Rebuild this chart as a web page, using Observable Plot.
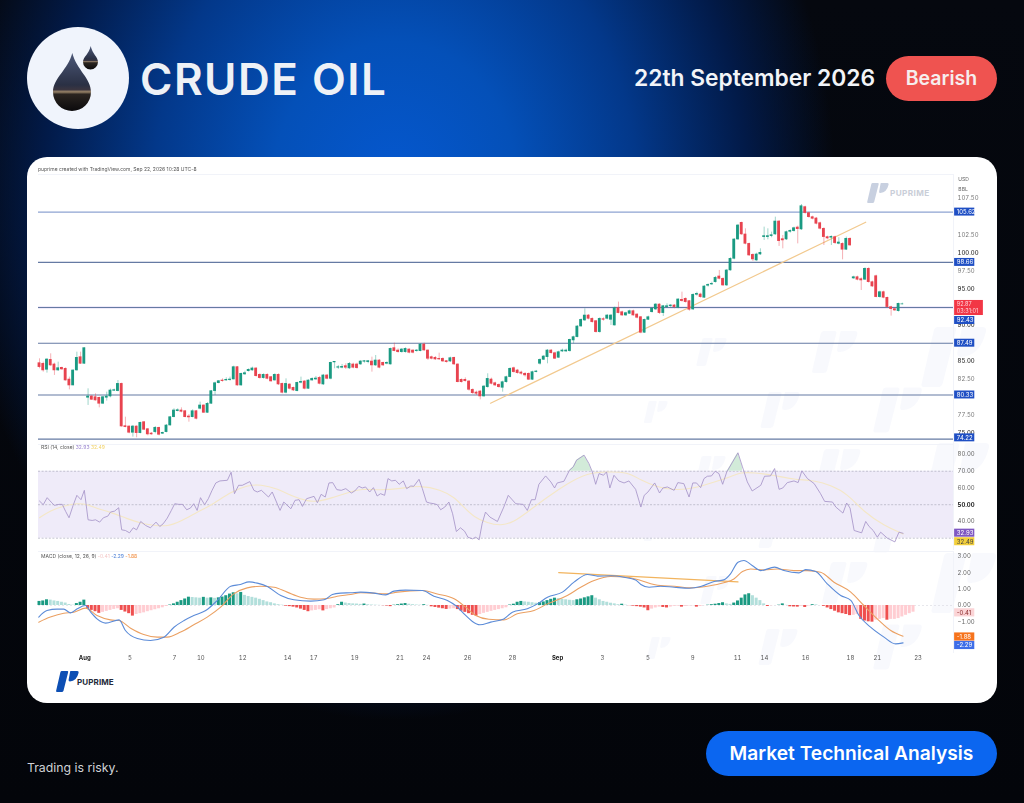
<!DOCTYPE html>
<html><head><meta charset="utf-8">
<script src="https://cdn.jsdelivr.net/npm/d3@7"></script>
<script src="https://cdn.jsdelivr.net/npm/@observablehq/plot@0.6"></script>
<style>
html,body{margin:0;padding:0;width:1024px;height:803px;overflow:hidden;background:#04060c}
body{position:relative;font-family:Inter,"Open Sans",sans-serif;
background:
 radial-gradient(ellipse 440px 530px at 395px 190px,#0558d0 0%,#0450b8 28%,#03388a 55%,#021a48 80%,rgba(2,12,34,0) 100%),
 linear-gradient(#05080f,#03050a);}
.abs{position:absolute}
#card{left:27px;top:157px;width:970px;height:546px;background:#fff;border-radius:20px;overflow:hidden}
.plot{position:absolute;left:38px;filter:blur(.25px)}
.plot svg{display:block;overflow:visible}
.tiny{font:5px Inter,sans-serif;color:#555;white-space:nowrap;filter:blur(.2px)}
</style></head><body>
<svg class="abs" style="left:0;top:0" width="1024" height="160">
 <defs>
  <linearGradient id="dg" x1="0" y1="0" x2="0" y2="1">
   <stop offset="0" stop-color="#4c5878"/><stop offset=".55" stop-color="#2a3044"/><stop offset=".63" stop-color="#3a3540"/><stop offset=".67" stop-color="#9a8468"/><stop offset=".71" stop-color="#2a2420"/><stop offset="1" stop-color="#0b0a0c"/>
  </linearGradient>
 </defs>
 <circle cx="78" cy="78" r="51" fill="#f0f4fc"/>
 <path d="M72.3 53C68 70 53 78 53 92A19 19 0 0 0 91 92C91 78 76.6 70 72.3 53Z" fill="url(#dg)"/>
 <path d="M90.7 46C89 54 83 57 83 62A7.5 7.5 0 0 0 98 62C98 57 92.4 54 90.7 46Z" fill="url(#dg)"/>
</svg>
<div class="abs" id="title" style="left:140px;top:53px;font:600 44px/52px Inter,sans-serif;color:#eef1f6;letter-spacing:1.5px;white-space:nowrap">CRUDE OIL</div>
<div class="abs" style="left:634px;top:64px;font:600 22.8px/28px Inter,sans-serif;color:#f2f4f8;white-space:nowrap">22th September 2026</div>
<div class="abs" style="left:886px;top:56px;width:111px;height:45px;border-radius:23px;background:#ef5350;color:#f6eeee;font:600 19.5px/45px Inter,sans-serif;text-align:center">Bearish</div>
<div class="abs" style="left:706px;top:731px;width:291px;height:45px;border-radius:23px;background:#0b66f0;color:#fff;font:600 19.2px/45px Inter,sans-serif;text-align:center;white-space:nowrap">Market Technical Analysis</div>
<div class="abs" style="left:27px;top:760px;font:400 12.3px/16px Inter,sans-serif;color:#d0d2d6">Trading is risky.</div>

<div class="abs" id="card"><svg id="marks" width="970" height="546" style="position:absolute;left:0;top:0"></svg></div>
<div class="abs tiny" style="left:38px;top:166px">puprime created with TradingView.com, Sep 22, 2026 10:28 UTC-8</div>
<div class="abs tiny" style="left:41px;top:444px">RSI (14, close) <span style="color:#9a86cf">32.93</span> <span style="color:#f2d266">32.49</span></div>
<div class="abs tiny" style="left:41px;top:553px">MACD (close, 12, 26, 9) <span style="color:#f4c6c6">-0.41</span> <span style="color:#4a7fd6">-2.29</span> <span style="color:#f08a3c">-1.88</span></div>
<div class="abs" style="left:890px;top:186px;font:700 8.2px/14px Inter,sans-serif;color:#c9ced8;letter-spacing:.4px">PUPRIME</div>
<div class="abs" style="left:77px;top:676px;font:700 8px/12px Inter,sans-serif;color:#232a3a;letter-spacing:.1px">PUPRIME</div>
<div class="plot" id="price" style="top:174px"></div>
<div class="plot" id="rsi" style="top:444px"></div>
<div class="plot" id="macd" style="top:551px"></div>

<script>
const opens=[84.73,84.64,83.81,85.19,84.55,83.72,84.09,83.95,82.47,81.64,83.72,85.56,84.64,79.94,80.12,80.03,79.94,79.11,79.94,80.12,
80.90,80.86,81.87,76.02,75.97,75.10,75.97,75.05,76.57,75.60,75.00,75.19,75.79,74.96,75.19,76.11,77.26,78.09,78.19,78.09,
77.36,77.26,78.09,78.42,78.88,77.86,79.11,80.86,81.96,82.33,82.33,82.38,82.47,84.18,81.64,83.17,83.62,83.72,84.00,83.12,
82.66,83.12,82.80,82.33,83.12,81.87,80.63,81.78,81.32,80.86,82.01,82.20,81.18,82.33,82.47,82.70,81.78,83.03,82.56,84.83,
84.09,84.09,84.32,84.00,84.55,84.55,84.55,84.92,84.87,84.96,84.41,85.10,84.78,84.64,84.55,86.81,86.48,86.25,86.25,86.62,
86.48,86.39,86.39,87.31,86.48,85.56,85.47,85.33,85.33,85.01,84.96,85.47,84.55,82.43,82.43,82.20,81.04,80.67,80.81,80.12,
81.41,82.47,81.96,81.73,81.32,82.10,82.80,84.04,83.72,83.44,83.26,83.26,82.43,83.49,84.64,85.19,85.56,86.48,86.11,85.47,
86.34,86.34,86.39,87.87,88.33,89.80,90.63,91.32,90.86,90.54,89.02,90.82,90.86,90.72,89.94,92.34,91.78,91.32,91.55,91.92,
91.46,91.09,88.93,90.72,91.78,92.15,92.84,91.65,92.48,92.61,92.71,92.38,93.49,93.63,93.31,92.15,94.18,94.23,93.77,95.43,
95.61,95.93,96.72,96.39,95.47,97.55,99.16,101.83,104.14,102.53,101.23,99.71,98.93,99.76,102.16,102.16,102.30,102.53,104.32,101.88,
101.83,102.89,102.99,103.49,103.22,106.31,105.48,104.92,104.74,104.09,103.31,102.16,102.07,102.16,101.23,101.23,100.41,101.93,96.44,96.62,
96.35,96.26,97.78,95.93,96.76,93.86,94.55,93.77,92.48,92.20,91.92,92.85];
const closes=[84.18,83.72,85.24,84.41,83.72,84.04,83.86,82.33,81.64,83.72,85.47,84.64,86.81,80.12,79.66,79.57,79.11,80.03,80.12,80.95,
81.00,81.87,75.97,75.88,75.10,75.97,75.05,76.48,75.51,74.87,74.87,75.79,74.82,75.10,76.11,77.26,78.19,78.23,78.00,77.26,
77.22,78.09,77.03,78.88,77.86,79.11,80.86,81.96,82.24,82.24,82.43,82.47,84.18,81.64,83.26,83.35,83.81,84.00,82.93,82.66,
83.12,82.56,82.20,83.12,81.78,80.63,81.87,81.18,80.95,82.01,82.15,81.18,82.33,82.56,82.61,81.87,83.03,82.56,84.78,84.92,
84.18,84.22,84.09,84.64,84.09,84.04,84.96,85.01,85.01,84.41,85.10,84.09,84.41,84.78,86.71,86.39,86.25,86.62,86.71,86.16,
86.16,86.48,87.31,86.48,85.33,85.33,85.24,85.24,84.96,84.87,85.42,84.55,82.10,82.10,82.24,81.04,80.58,80.49,80.12,81.50,
82.56,81.87,81.64,81.41,82.10,82.80,83.95,83.49,83.35,83.26,83.03,82.43,83.49,83.58,85.19,85.65,86.48,86.11,85.33,86.25,
86.48,86.48,87.96,88.33,89.80,90.72,91.32,90.86,90.40,89.02,90.86,90.72,91.32,91.32,92.34,91.65,91.32,91.65,91.92,91.32,
91.00,88.93,90.72,91.09,92.25,92.84,91.65,92.61,92.61,92.71,92.48,93.54,93.31,93.17,92.11,94.18,94.32,93.86,95.33,95.56,
95.70,96.53,96.39,95.47,97.55,99.16,101.83,103.77,102.53,101.23,99.62,99.07,99.76,99.99,102.30,102.30,102.43,104.32,101.60,101.70,
102.85,103.03,103.40,103.26,106.44,105.48,104.92,104.69,104.00,103.31,102.16,101.97,102.20,101.33,101.42,100.41,101.93,101.00,96.62,96.26,
96.16,97.78,95.93,95.33,93.86,94.55,93.77,92.48,92.20,92.01,92.94,92.87];
const highs=[85.33,84.87,85.33,86.02,84.73,84.87,84.18,84.09,82.80,83.81,86.25,86.25,86.85,81.18,80.26,80.49,80.03,80.12,80.72,81.14,
81.14,82.33,81.97,77.26,76.06,76.11,76.06,76.57,76.66,75.70,75.14,75.97,75.88,75.19,76.25,77.36,78.42,78.42,78.55,78.19,
77.63,78.28,78.19,79.34,78.97,79.29,80.95,82.10,82.33,82.56,82.70,82.80,84.32,84.27,83.35,83.62,83.95,84.18,84.09,83.26,
83.26,83.26,82.89,83.26,83.26,81.97,82.56,81.87,81.41,82.10,82.80,82.33,82.43,82.70,82.89,82.89,83.17,83.17,84.87,84.96,
84.41,84.55,84.64,84.82,84.73,84.73,85.10,85.10,85.10,85.56,85.79,85.24,84.87,84.92,86.81,87.50,86.71,86.76,86.85,86.71,
86.57,86.62,87.40,87.50,86.57,85.70,85.65,86.11,85.47,85.10,85.56,85.56,84.64,82.56,82.70,82.33,81.18,80.86,80.95,81.64,
83.26,82.66,82.10,81.87,82.24,82.93,84.09,84.18,83.86,83.62,83.44,83.39,83.62,83.72,85.33,85.79,86.62,86.62,86.25,86.39,
86.67,86.67,88.05,88.47,89.94,90.86,92.25,91.46,91.00,90.63,91.00,91.00,91.46,91.46,92.48,93.17,91.92,91.78,92.06,92.06,
91.55,91.18,90.82,91.23,92.38,92.98,92.94,92.71,92.94,92.84,92.84,93.63,94.55,93.77,93.40,94.32,94.55,94.41,95.47,95.70,
95.93,96.72,97.55,96.53,97.69,99.30,101.97,103.91,104.23,103.31,101.33,99.85,99.94,100.54,103.54,103.31,102.85,104.92,104.46,102.39,
102.99,103.17,103.54,103.68,106.67,106.44,105.61,105.06,104.88,104.23,103.45,102.30,102.34,102.30,102.07,101.37,102.16,102.07,96.76,96.76,
96.53,97.92,97.92,96.07,96.90,94.69,94.69,93.86,92.61,92.34,93.03,93.03];
const lows=[83.95,83.49,83.35,84.27,83.03,83.58,83.72,82.24,81.04,81.60,83.62,84.55,84.55,78.88,79.57,79.48,78.55,79.01,79.48,79.94,
80.86,80.77,75.88,75.79,74.96,74.50,74.41,74.96,75.42,74.68,74.77,74.96,74.68,74.87,75.10,76.02,77.17,78.00,77.86,77.17,
76.57,77.17,76.89,78.28,77.77,77.77,79.01,80.26,81.87,82.10,82.24,82.24,82.43,81.55,81.55,83.03,83.49,83.62,82.80,82.52,
82.52,82.43,82.10,82.24,81.64,80.49,80.49,81.04,80.81,80.77,81.87,81.04,81.09,82.24,82.33,81.73,81.64,82.43,82.43,83.95,
83.86,83.95,83.86,83.86,83.95,83.90,84.41,84.73,84.64,83.49,84.27,83.95,84.27,84.50,84.46,86.30,86.11,86.11,86.11,86.02,
86.02,86.25,86.30,86.39,85.10,85.19,85.10,85.10,84.82,84.73,84.82,84.41,82.01,81.97,82.10,80.86,80.40,80.26,79.66,80.03,
81.27,81.73,81.50,81.27,80.72,81.96,82.70,83.35,83.21,83.07,82.80,82.33,82.33,83.39,84.46,85.10,84.64,85.97,85.24,85.38,
86.21,86.21,86.25,87.40,88.23,89.71,90.49,90.72,90.26,88.88,88.88,90.54,90.72,89.94,89.85,91.55,91.19,91.19,91.46,91.23,
90.86,88.79,88.83,90.63,91.65,92.01,91.46,91.19,92.34,92.38,92.25,92.25,93.17,93.03,91.92,92.01,94.00,93.72,93.67,95.24,
95.47,95.80,96.26,95.33,95.33,97.45,99.02,101.70,102.39,101.10,99.48,98.79,98.79,99.62,101.70,101.79,102.07,102.39,100.87,100.54,
101.70,102.71,102.85,101.23,103.08,105.34,104.78,104.55,103.86,103.17,101.00,101.79,101.00,101.14,101.10,99.02,100.31,100.91,96.30,96.12,
94.78,96.16,95.80,95.20,93.77,93.72,93.63,92.34,91.23,91.88,91.79,92.80];

const levels=[105.62,98.66,92.43,87.49,80.33,74.22];
const levelTagY=[105.62,98.66,90.63,87.49,80.33,74.40];
const priceMinor=[107.5,102.5,97.5,82.5,77.5];
const priceMajor=[100,95,90,85,75];
const trendIdx=[120.75,221.2];
const trendVal=[79.19,104.22];

const rsiIdx=[0,1,2.05,3.1,4,5.2,6.1,7,7.9,9,10,11.1,12,13,14.1,15,16.1,17.1,18.3,19,20.1,21.2,22,23,24.1,25.1,26,27.1,28.4,29.7,31.2,32.2,33.1,34.2,35.3,36.2,37.3,38.3,39.4,40.4,41.3,42.2,43.1,44.2,45.2,46.2,47.2,48.3,50.3,51.3,52.2,53.3,54.3,56.3,57.4,58.3,59.4,61.3,62.3,64.4,65.4,67.3,68.4,69.5,70.4,71.5,73.5,74.4,75.4,76.5,77.5,78.5,79.6,80.8,82,
83.5,84.4,85.5,86.4,87.3,88.4,89.4,90.4,91.3,92.4,93.3,94.3,95.3,96.3,97.4,98.3,99.4,100.2,101.6,102.5,103.6,104.5,105.6,106.5,107.4,108.5,109.6,110.6,111.6,112.7,113.8,114.7,115.9,116.8,117.7,118.5,119.4,120.6,122.6,124.3,125.5,127.5,129.5,130.6,131.7,132.7,133.7,135.5,136.9,137.9,138.6,140.4,141.9,142.9,143.8,145.8,147.1,148,148.9,149.8,151,151.8,152.7,153.8,155.1,156.5,157.8,159.6,161,161.9,162.9,164.7,166,
166.9,168.1,169.9,170.9,172.5,173.9,174.9,175.9,177,177.9,178.8,179.9,180.9,181.9,182.9,184,187,188.2,189.5,190.8,193.1,194.1,195.7,196.8,198,199,200.2,202,203.1,204.1,205.6,207.4,209.1,210.2,212.3,213.2,215.1,216.1,217,218.1,220.1,221.2,222.1,223.2,224.3,225.2,227,229,230.1,231.2];
const rsiVal=[52.2,50,54.2,51.6,49.6,50.2,50.2,46,42.2,49.6,55.6,53,58.6,41,40.6,41,39.6,42.2,43.2,45.6,46.2,48.2,35,34.6,33.2,36.2,35,40,37.6,36.2,39.6,37,38.6,42,46.6,50.6,50.2,50.2,47,48,50.6,46.6,54.2,50,53.6,58.6,63,64.2,64.6,69.4,56.6,61.6,61.6,63.8,58.6,57.6,58.6,54.6,57.6,46.6,51.6,47.6,52.6,53,49,53.6,55,51.2,56.2,54.6,63,63.2,59,58.6,59.6,
57,58.2,61,60,60.6,57.6,60.2,55.2,56.6,55.6,65.6,64.2,64.6,62.2,64.2,59.6,61.2,61,65.2,59.6,51.6,51,50.6,50,47,48.6,51.6,44.6,34,36.2,34.2,30.6,29.6,30.6,29,38.6,45.6,42.6,40,48.6,55.6,50.6,50.2,46.6,53,53,62.2,67.2,63.6,60,63,64,70.6,72.6,76.6,79.6,74.6,69.6,62.2,68.6,67.6,69.6,60,67.6,64.2,63,64.2,59.2,48.6,55.6,57.6,63,57,
60,60.6,58.6,63.2,62.6,54.6,63,63,60.2,65.6,67,67.2,70,68.6,62.2,69.6,81,72.6,63.6,58.2,61.6,67,67.2,71.6,59.2,60,63.2,64.2,63.2,70.2,65.6,62.6,56.6,52,51.6,48.6,45,51,48,34.6,33.2,40,37,34.6,30.6,33.6,30,27.8,33.6,32.93];
const rsiMaIdx=[0,2.9,6.5,10.1,12.8,15.4,19,23.5,27,30.6,34.2,37.8,42.2,46.7,51.2,55.6,59.2,63.7,68.1,71.7,75.3,78.8,83.3,86,91.3,96.7,102,107.4,111,113.6,116.3,119.9,123.5,127,130.6,136,141.3,146.7,152,157.4,161,165.4,169.9,175.2,180.6,185,187.7,191.3,196.6,202,207.4,211.8,216.3,220.7,226.1,231.2];
const rsiMaVal=[42.2,46.6,49.2,51,50.2,47.6,45.6,41.6,39,37.6,37,40,45.6,50.6,57.6,61.6,62.2,59.6,54.6,52,52,54.6,57.6,59.6,58.6,59.6,61.6,59,54.6,48.6,42.6,39,37.4,39.6,45.6,54.6,62.6,69,69.6,69.6,64.6,60.6,58.6,59.6,63.6,66.6,69.4,69.2,67.6,65,64.6,61.6,56.6,45.6,37.6,32.49];
const rsiTicks=[80,70,60,40];
const rsiBold=[50];
const rsiTagY=[33,27.9];
const rsiTagText=["32.93","32.49"];

const macdIdx=[-0.2,2,4.7,6.5,8.3,10.1,12.3,13.7,15.4,17.7,21.3,23,26.2,29.7,33.3,36,38.7,41.3,44.5,47.6,51.2,53.8,56.1,58.3,61,64.6,68.1,72.6,76.2,78.4,80.6,83.3,86,89.5,92.7,94.9,98,102.5,105.6,109.2,111.4,114.1,115.9,117.9,120.8,124.3,126.6,130.6,133.3,136,140,143.1,146.7,149.4,152.9,156.5,159.6,161,163.2,166.3,169.9,173.9,177,180.6,183.2,185,187,188.6,190.8,193.1,196.8,199.3,203.3,205.1,207.8,210.9,214.5,217.2,219.4,222.5,226.1,229.2,231.2];
const macdVal=[-0.71,-0.31,-0.22,-0.22,-0.45,-0.2,0,-0.41,-0.82,-1.08,-0.88,-1.53,-2.02,-2.14,-1.94,-1.33,-0.92,-0.61,-0.31,0.31,1.18,1.29,1.45,1.37,1.16,0.61,0.35,0.27,0.35,0.67,0.76,0.78,0.82,0.76,0.65,0.88,0.94,0.92,0.57,0.31,0,-0.61,-0.98,-1.18,-1.02,-0.82,-0.41,-0.2,0.1,0.51,0.82,1.43,1.9,1.8,1.82,1.73,1.57,1.29,1.12,1.18,1.12,1.06,1.16,1.47,1.57,1.94,2.65,2.76,2.45,2.14,2.35,2.14,2,2.2,2.08,1.33,0.61,0.31,-0.61,-1.33,-1.94,-2.35,-2.29];
const signalIdx=[-0.2,2.9,6.5,9.2,12.3,15.4,19,21.3,24.4,27.9,31.5,34.2,37.8,41.3,44.9,48.5,52,55.6,59.2,62.8,66.3,69.9,73.5,77.1,79.7,83.3,86,89.5,92.7,95.8,102.5,106.5,111,114.1,116.8,120.3,124.3,127.9,132.4,136,141.3,144.9,148.5,152.9,157.4,161,164.5,166.3,169.9,174.3,178.8,183.2,185.9,188.2,190.4,194,197.5,202,205.6,209.1,212.7,217.2,220.7,224.3,227.9,231.2];
const signalVal=[-1.02,-0.71,-0.47,-0.41,-0.16,-0.61,-0.88,-0.92,-1.39,-1.78,-1.94,-1.94,-1.63,-1.18,-0.71,-0.1,0.71,1.08,1.18,1.12,0.82,0.51,0.39,0.43,0.57,0.67,0.78,0.76,0.71,0.82,0.92,0.71,0.41,-0.1,-0.61,-0.84,-0.88,-0.51,-0.31,0.1,0.61,1.12,1.53,1.78,1.73,1.53,1.29,1.22,1.18,1.08,1.18,1.39,1.63,2.08,2.24,2.18,2.24,2.14,2.14,2.04,1.43,0.82,0,-0.82,-1.53,-1.88];
const hist=[.25,.28,.35,.33,.28,.25,.2,.15,.06,.02,.12,.2,.33,-.18,-.3,-.38,-.48,-.42,-.36,-.3,-.24,-.2,-.3,-.4,-.5,-.65,-.55,-.5,-.45,-.38,-.32,-.26,-.2,-.14,-.06,.03,.1,.2,.3,.4,.51,.49,.47,.45,.5,.45,.47,.44,.47,.52,
.6,.7,.78,.72,.8,.62,.55,.5,.45,.38,.3,.22,.17,.1,.05,.02,-.04,-.07,-.1,-.15,-.22,-.3,-.38,-.33,-.3,-.26,-.33,-.25,-.2,-.15,.05,.2,.15,.12,.1,.09,
.07,.09,.05,.03,.02,.01,-.01,-.03,-.07,.02,.05,.09,.12,.08,.05,.03,.02,.05,.01,-.08,-.12,-.16,-.2,-.24,-.22,-.2,-.25,-.35,-.42,-.5,-.6,-.65,-.55,-.48,-.42,-.36,-.3,-.25,-.2,-.14,.03,.08,.2,.25,.22,.2,.17,.14,.17,.22,.3,.38,.45,
.42,.38,.35,.32,.3,.35,.4,.47,.53,.6,.45,.35,.25,.2,.14,.1,.05,.08,.02,-.01,-.04,-.07,-.1,-.15,-.32,-.22,-.15,-.1,-.12,-.15,-.1,-.05,-.04,-.1,-.06,-.03,-.02,-.1,-.06,-.01,.02,.05,.08,.12,.17,.1,.07,.15,.28,.45,.65,.72,.6,.45,.3,.1,-.06,-.02,0,.02,.1,.01,-.08,-.09,-.1,-.05,-.12,-.03,.05,.04,0,-.05,-.15,-.25,-.35,-.45,-.5,-.55,-.62,-.6,-.55,-.85,-.95,-1,-1.02,-.9,-.85,-.8,-.9,-.85,-.85,-.8,-.7,-.6,-.5,-.41];
const macdTicks=[3,2,1,0,-1];
const macdTrendIdx=[139,187];
const macdTrendVal=[2.02,1.45];

const dayTicks=[24.2,36.1,43.2,54.4,66.4,73.4,84.4,96.5,103.6,114.6,126.6,150.7,162.9,174.9,186.9,194.1,205.1,217.1,224.3,235.2];
const dayLabels=["5","7","10","12","14","17","19","21","24","26","28","3","5","9","11","14","16","18","21","23"];
const monthTicks=[12.1,138.7];
const monthLabels=["Aug","Sep"];

const xDomain=[-0.27,244.7];
const W=949,base={width:W,marginLeft:0,marginRight:34,marginTop:0,x:{domain:xDomain,axis:null},
  style:{background:"transparent",fontFamily:"Inter,Roboto,sans-serif",overflow:"visible"}};
const tagX1=245, tagX2=250.4, tagTextX=245.6;
const pair=(a,b)=>a.map((v,i)=>({i:v,v:b[i]}));
const candles=opens.map((o,i)=>({i,o,c:closes[i],h:highs[i],l:lows[i]}));
const candleColor=d=>d.c>=d.o?"#1a9a82":"#e8434f";
const edges=()=>[Plot.frame({anchor:"top",stroke:"#f1f3f9"}),Plot.frame({anchor:"right",stroke:"#f1f3f9"})];
const axisY=(ticks,fill,weight)=>Plot.axisY({anchor:"right",ticks,tickSize:0,tickPadding:4,tickFormat:d3.format(".2f"),fontSize:6,fill,fontWeight:weight,label:null});
const tag=(rows,fill,h,color)=>[
  Plot.rect(rows,{x1:tagX1,x2:tagX2,y1:d=>d.y-h,y2:d=>d.y+h,fill}),
  Plot.text(rows,{x:tagTextX,y:"y",text:"t",fill:color,fontSize:6,textAnchor:"start"})];

// PRICE
const priceChart=Plot.plot({...base,height:269,marginBottom:0,y:{domain:[73.62,110.82],axis:null},marks:[
  ...edges(),
  Plot.ruleY([92.43],{stroke:"#cdbbf0",strokeWidth:2.2,strokeOpacity:.6}),
  Plot.ruleY(levels,{stroke:d=>d===105.62?"#8ea3d2":"#657aa3",strokeWidth:d=>d===105.62?1.4:1.15}),
  axisY(priceMinor,"#777",400),
  axisY(priceMajor,"#333",500),
  Plot.text(["USD","BBL"],{x:tagTextX+.4,y:d=>d==="USD"?110.13:108.74,text:d=>d,fontSize:5,fill:"#666",textAnchor:"start"}),
  Plot.line(pair(trendIdx,trendVal),{x:"i",y:"v",stroke:"#f2c98e",strokeWidth:1.2}),
  Plot.ruleX(candles,{x:"i",y1:"l",y2:"h",stroke:candleColor,strokeWidth:.6,strokeOpacity:.7}),
  Plot.rect(candles,{x1:d=>d.i-.38,x2:d=>d.i+.38,y1:d=>Math.min(d.o,d.c)-.04,y2:d=>Math.max(d.o,d.c)+.04,fill:candleColor}),
  ...tag(levels.map((v,i)=>({y:levelTagY[i],t:v.toFixed(2)})),"#1f4fc4",.55,"#fff"),
  Plot.rect(["92.87"],{x1:tagX1,x2:252.7,y1:91.32,y2:93.4,fill:"#f23645"}),
  Plot.text([{t:"92.87",y:92.84},{t:"03:31:01",y:91.87}],{x:tagTextX,y:"y",text:"t",fill:"#ffd5da",fontSize:5.5,textAnchor:"start"})
]});
document.getElementById("price").append(priceChart);

// RSI
const rsiRows=pair(rsiIdx,rsiVal);
const peak=(a,b)=>rsiRows.filter(d=>d.i>=a&&d.i<=b);
const rsiChart=Plot.plot({...base,height:105,marginBottom:0,y:{domain:[23.25,85.97],axis:null},marks:[
  ...edges(),
  Plot.rect([0],{y1:30,y2:70,fill:"#efebf9"}),
  Plot.ruleY([70,50,30],{stroke:"#aeadbd",strokeWidth:.7,strokeDasharray:"2,1.6"}),
  axisY(rsiTicks,"#666",400),
  axisY(rsiBold,"#222",700),
  Plot.areaY(peak(141.9,148),{x:"i",y1:70,y2:"v",fill:"#d2ebd9"}),
  Plot.areaY(peak(184,188.9),{x:"i",y1:70,y2:"v",fill:"#d2ebd9"}),
  Plot.line(pair(rsiMaIdx,rsiMaVal),{x:"i",y:"v",stroke:"#f4e7c6",strokeWidth:1.1,curve:"basis"}),
  Plot.line(rsiRows,{x:"i",y:"v",stroke:"#a695c9",strokeWidth:.85}),
  ...tag([{y:rsiTagY[0],t:rsiTagText[0]}],"#7e57c2",2.4,"#fff"),
  ...tag([{y:rsiTagY[1],t:rsiTagText[1]}],"#f2cf3c",2.4,"#444"),
]});
document.getElementById("rsi").append(rsiChart);

// MACD
const histRows=hist.map((v,i)=>({i,v,up:i===0?true:v>=hist[i-1]}));
const histColor=d=>d.v>=0?(d.up?"#1a9a82":"#b2dfdb"):(d.up?"#ffcdd2":"#ef4f4f");
const macdChart=Plot.plot({...base,height:117,marginBottom:16,y:{domain:[-2.88,3.31],axis:null},marks:[
  ...edges(),
  Plot.ruleY([0],{stroke:"#dcdce4",strokeWidth:.7,strokeDasharray:"2,2"}),
  Plot.rect(histRows,{x1:d=>d.i-.4,x2:d=>d.i+.4,y1:0,y2:"v",fill:histColor}),
  axisY(macdTicks,"#666",400),
  Plot.axisX({anchor:"bottom",ticks:dayTicks,tickSize:0,tickPadding:3,fontSize:6,fill:"#555",label:null,tickFormat:d=>dayLabels[dayTicks.indexOf(d)]}),
  Plot.axisX({anchor:"bottom",ticks:monthTicks,tickSize:0,tickPadding:3,fontSize:6,fill:"#222",fontWeight:700,label:null,tickFormat:d=>monthLabels[monthTicks.indexOf(d)]}),
  Plot.line(pair(macdTrendIdx,macdTrendVal),{x:"i",y:"v",stroke:"#f2b45e",strokeWidth:1.2}),
  Plot.line(pair(signalIdx,signalVal),{x:"i",y:"v",stroke:"#eba062",strokeWidth:1.1,curve:"monotone-x"}),
  Plot.line(pair(macdIdx,macdVal),{x:"i",y:"v",stroke:"#5b8bd8",strokeWidth:1.1,curve:"monotone-x"}),
  ...tag([{y:-.45,t:"-0.41"}],"#fbd4d6",.25,"#8a2a2a"),
  ...tag([{y:-1.93,t:"-1.88"}],"#f6731c",.25,"#fff"),
  ...tag([{y:-2.45,t:"-2.29"}],"#3e6ee8",.25,"#fff"),
]});
document.getElementById("macd").append(macdChart);

// watermark logos on the card
const logo="M18 0H44Q50 0 49 6L36 94Q35 100 28 100H6Q0 100 1 94L12 6Q13 0 18 0ZM60 0H92Q100 0 99 8Q94 48 62 50Q54 50 55 42L58 4Q58 0 60 0Z";
const wm=[[713,352,.28],[837,352,.42],[957,357,.6],[782,410,.36],[900,410,.45],[657,412,.22],[657,530,.22],[780,530,.36],[900,530,.45],[840,470,.42],[960,473,.6],[712,470,.28],[847,583,.42],[967,583,.6],[717,590,.28],[660,648,.22],[780,647,.36],[900,647,.45]];
const ms=d3.select("#marks");
for(const [x,y,s] of wm) ms.append("path").attr("d",logo).attr("transform",`translate(${x-27-50*s},${y-157-50*s}) scale(${s}) skewX(-6)`).attr("fill","#2f62c8").attr("opacity",.035);
ms.append("path").attr("d",logo).attr("transform","translate(842,26) scale(.2) skewX(-6)").attr("fill","#c8d0e0");
ms.append("path").attr("d",logo).attr("transform","translate(31,514) scale(.21) skewX(-6)").attr("fill","#0d4fb4");
</script>
</body></html>
